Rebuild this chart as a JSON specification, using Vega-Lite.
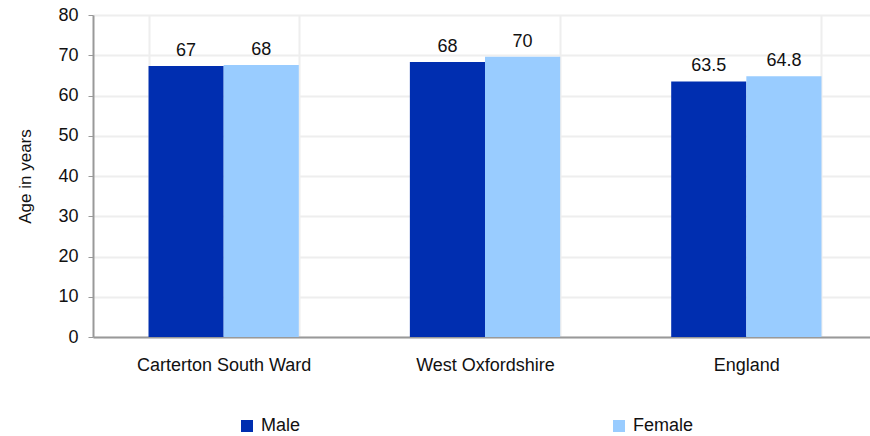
{
  "$schema": "https://vega.github.io/schema/vega-lite/v6.json",
  "autosize": {"type": "none"},
  "width": 784,
  "height": 322,
  "padding": {"left": 93, "top": 15, "right": 0, "bottom": 99},
  "background": "white",
  "config": {
    "font": "Liberation Sans",
    "view": {"stroke": null}
  },
  "data": {
    "values": [
      {"area": "Carterton South Ward", "sex": "Male", "age": 67.3, "label": "67"},
      {"area": "Carterton South Ward", "sex": "Female", "age": 67.6, "label": "68"},
      {"area": "West Oxfordshire", "sex": "Male", "age": 68.3, "label": "68"},
      {"area": "West Oxfordshire", "sex": "Female", "age": 69.6, "label": "70"},
      {"area": "England", "sex": "Male", "age": 63.5, "label": "63.5"},
      {"area": "England", "sex": "Female", "age": 64.8, "label": "64.8"}
    ]
  },
  "encoding": {
    "x": {
      "field": "area", "type": "nominal", "sort": null,
      "scale": {"paddingInner": 0.425, "paddingOuter": 0.2125},
      "axis": {
        "title": null, "labelAngle": 0, "labelFontSize": 18, "labelColor": "#111",
        "labelPadding": 19, "ticks": false, "domainColor": "#999", "domainWidth": 2,
        "grid": true, "gridColor": "#eeeeee", "gridWidth": 2, "tickBand": "extent"
      }
    },
    "xOffset": {"field": "sex", "type": "nominal", "sort": ["Male", "Female"]},
    "y": {
      "field": "age", "type": "quantitative",
      "scale": {"domain": [0, 80]},
      "axis": {
        "title": "Age in years", "titleFontSize": 17, "titleFontWeight": "normal", "titleColor": "#111",
        "titlePadding": 23,
        "values": [0, 10, 20, 30, 40, 50, 60, 70, 80],
        "labelFontSize": 18, "labelColor": "#111", "labelPadding": 10,
        "tickSize": 5, "tickColor": "#999", "domainColor": "#999", "domainWidth": 2,
        "gridColor": "#eeeeee", "gridWidth": 2
      }
    }
  },
  "layer": [
    {
      "mark": {"type": "bar"},
      "encoding": {
        "color": {
          "field": "sex", "type": "nominal", "sort": ["Male", "Female"],
          "scale": {"domain": ["Male", "Female"], "range": ["#002EB0", "#99CCFF"]},
          "legend": {
            "title": null, "orient": "none", "legendX": 145, "legendY": 402,
            "direction": "horizontal", "symbolType": "square", "symbolSize": 144,
            "symbolStrokeWidth": 0, "labelFontSize": 18, "labelColor": "#111",
            "labelOffset": 5, "columnPadding": 309
          }
        }
      }
    },
    {
      "mark": {"type": "text", "dy": -15, "fontSize": 18, "color": "#111"},
      "encoding": {"text": {"field": "label"}}
    }
  ]
}
